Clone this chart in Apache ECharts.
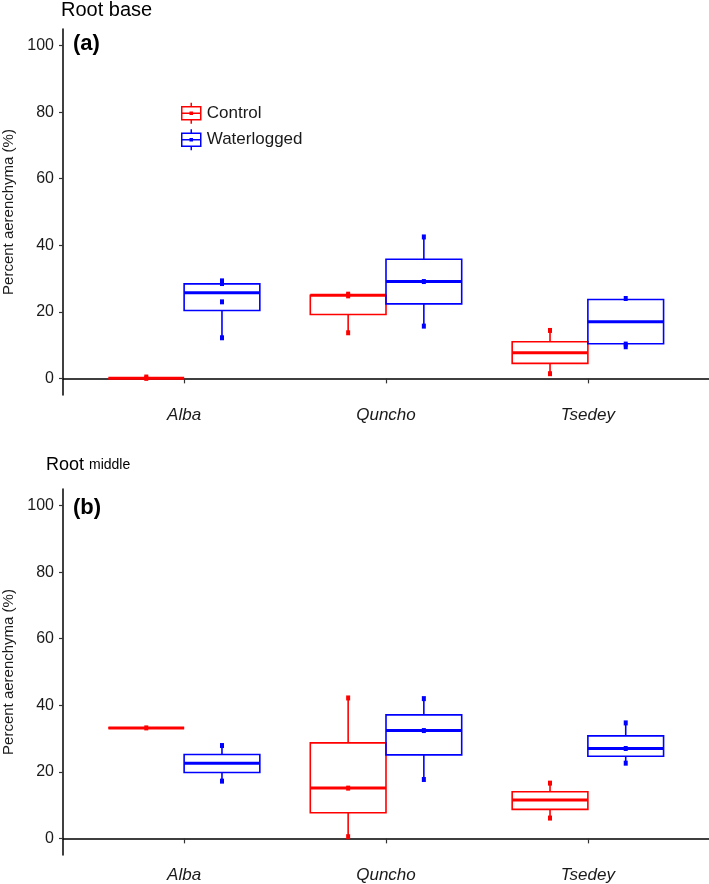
<!DOCTYPE html>
<html>
<head>
<meta charset="utf-8">
<script src="https://cdn.jsdelivr.net/npm/echarts@6/dist/echarts.min.js"></script>
<style>
  html, body { margin: 0; padding: 0; background: #fff; }
  #chart { width: 709px; height: 884px; }
</style>
</head>
<body>
<div id="chart"></div>
<script>
// categories and tick labels
const cultivars = ['Alba', 'Quncho', 'Tsedey'];
const yTicks = [0, 20, 40, 60, 80, 100];

// box stats per cultivar: [min, q1, median, q3, max]
const baseControl = [[0, 0, 0, 0, 0], [13.7, 19.2, 25.0, 25.0, 25.3], [1.4, 4.5, 7.7, 11.0, 14.4]];
const baseWater = [[12.2, 20.4, 25.7, 28.4, 29.3], [15.7, 22.4, 29.1, 35.8, 42.5], [9.5, 10.4, 17.0, 23.7, 24.0]];
const midControl = [[33.2, 33.2, 33.2, 33.2, 33.2], [0.5, 7.7, 15.1, 28.7, 42.2], [6.1, 8.7, 11.5, 14.0, 16.6]];
const midWater = [[17.2, 19.8, 22.6, 25.2, 27.9], [17.7, 25.1, 32.4, 37.1, 42.0], [22.6, 24.7, 27.0, 30.8, 34.7]];

// observed points per cultivar
const basePtsControl = [[0, 0.4], [25.3, 24.8, 13.7], [14.4, 1.4]];
const basePtsWater = [[29.3, 28.5, 23.0, 12.2], [42.5, 29.1, 15.7], [24.0, 10.3, 9.5]];
const midPtsControl = [[33.2], [42.2, 15.1, 0.5], [16.6, 6.1]];
const midPtsWater = [[27.9, 17.2], [42.0, 32.4, 17.7], [34.7, 27.0, 22.6]];

const RED = '#ff0000';
const BLUE = '#0000ff';
const BOX_W = 0.375;
const DODGE = 0.1875;
const FONT = "'Liberation Sans', Arial, sans-serif";

const boxData = (stats, off) => stats.map((s, i) => [i + 1 + off].concat(s));
const ptData = (pts, off) => pts.flatMap((arr, i) => arr.map(v => [i + 1 + off, v]));

function renderBox(params, api) {
  const x = api.value(0);
  const lo = api.coord([x, api.value(1)]);
  const q1 = api.coord([x, api.value(2)]);
  const md = api.coord([x, api.value(3)]);
  const q3 = api.coord([x, api.value(4)]);
  const hi = api.coord([x, api.value(5)]);
  const w = api.size([BOX_W, 0])[0];
  const color = api.visual('color');
  const thin = { stroke: color, lineWidth: 1.6, fill: null };
  return {
    type: 'group',
    children: [
      { type: 'line', shape: { x1: lo[0], y1: q1[1], x2: lo[0], y2: lo[1] }, style: thin },
      { type: 'line', shape: { x1: hi[0], y1: q3[1], x2: hi[0], y2: hi[1] }, style: thin },
      { type: 'rect', shape: { x: q1[0] - w / 2, y: q3[1], width: w, height: q1[1] - q3[1] }, style: thin },
      { type: 'line', shape: { x1: md[0] - w / 2, y1: md[1], x2: md[0] + w / 2, y2: md[1] },
        style: { stroke: color, lineWidth: 3 } }
    ]
  };
}

const xAxisFor = (idx) => ({
  gridIndex: idx,
  type: 'value',
  min: 0.4,
  max: 3.6,
  axisLine: { show: true, lineStyle: { color: '#000', width: 1.5 } },
  axisTick: { show: true, customValues: [1, 2, 3], length: 5, lineStyle: { color: '#333', width: 1.2 } },
  axisLabel: {
    customValues: [1, 2, 3],
    formatter: v => cultivars[Math.round(v) - 1],
    fontStyle: 'italic', fontSize: 17, color: '#1a1a1a', fontFamily: FONT, margin: 12
  },
  splitLine: { show: false }
});

const yAxisFor = (idx) => ({
  gridIndex: idx,
  type: 'value',
  min: -5,
  max: 105,
  name: 'Percent aerenchyma (%)',
  nameLocation: 'middle',
  nameGap: 37,
  nameTextStyle: { fontSize: 15, color: '#1a1a1a', fontFamily: FONT },
  axisLine: { show: true, lineStyle: { color: '#000', width: 1.5 } },
  axisTick: { show: true, customValues: yTicks, length: 4, lineStyle: { color: '#333', width: 1.2 } },
  axisLabel: { customValues: yTicks, fontSize: 16, color: '#1a1a1a', fontFamily: FONT, margin: 9 },
  splitLine: { show: false }
});

const boxSeries = (name, idx, stats, off, color) => ({
  name: name,
  type: 'custom',
  xAxisIndex: idx,
  yAxisIndex: idx,
  renderItem: renderBox,
  itemStyle: { color: color },
  encode: { x: 0, y: [1, 2, 3, 4, 5] },
  data: boxData(stats, off),
  silent: true
});

const ptSeries = (name, idx, pts, off, color) => ({
  name: name,
  type: 'scatter',
  xAxisIndex: idx,
  yAxisIndex: idx,
  symbol: 'rect',
  symbolSize: [4, 5],
  itemStyle: { color: color, opacity: 1 },
  data: ptData(pts, off),
  z: 5,
  silent: true
});

const legendIcon = 'path://M10.5,0V4M1,4H20V17H1ZM1,10.5H20M10.5,17V21M9.5,9.5H11.5V11.5H9.5Z';

const chart = echarts.init(document.getElementById('chart'));
chart.setOption({
  backgroundColor: '#fff',
  animation: false,
  textStyle: { fontFamily: FONT },
  title: [
    { text: 'Root base', left: 61, top: 0, padding: 0,
      textStyle: { fontSize: 20, fontWeight: 'normal', color: '#000', fontFamily: FONT } },
    { text: '(a)', left: 73, top: 33, padding: 0,
      textStyle: { fontSize: 22, fontWeight: 'bold', color: '#000', fontFamily: FONT } },
    { text: '{a|Root} {b|middle}', left: 46, top: 456, padding: 0,
      textStyle: {
        fontWeight: 'normal',
        rich: {
          a: { fontSize: 18, fontWeight: 'normal', color: '#000', fontFamily: FONT },
          b: { fontSize: 14, fontWeight: 'normal', color: '#000', fontFamily: FONT }
        }
      } },
    { text: '(b)', left: 73, top: 497, padding: 0,
      textStyle: { fontSize: 22, fontWeight: 'bold', color: '#000', fontFamily: FONT } }
  ],
  legend: {
    orient: 'vertical',
    left: 181,
    top: 102,
    padding: 0,
    itemWidth: 21,
    itemHeight: 21,
    itemGap: 4,
    selectedMode: false,
    textStyle: { fontSize: 17, color: '#1a1a1a', fontFamily: FONT },
    data: [
      { name: 'Control', icon: legendIcon,
        itemStyle: { color: 'rgba(0,0,0,0)', borderColor: RED, borderWidth: 1.5 } },
      { name: 'Waterlogged', icon: legendIcon,
        itemStyle: { color: 'rgba(0,0,0,0)', borderColor: BLUE, borderWidth: 1.5 } }
    ]
  },
  grid: [
    { left: 63, top: 29, width: 646, height: 366, outerBoundsMode: 'none' },
    { left: 63, top: 489, width: 646, height: 366, outerBoundsMode: 'none' }
  ],
  xAxis: [xAxisFor(0), xAxisFor(1)],
  yAxis: [yAxisFor(0), yAxisFor(1)],
  series: [
    boxSeries('Control', 0, baseControl, -DODGE, RED),
    boxSeries('Waterlogged', 0, baseWater, DODGE, BLUE),
    ptSeries('Control', 0, basePtsControl, -DODGE, RED),
    ptSeries('Waterlogged', 0, basePtsWater, DODGE, BLUE),
    boxSeries('Control', 1, midControl, -DODGE, RED),
    boxSeries('Waterlogged', 1, midWater, DODGE, BLUE),
    ptSeries('Control', 1, midPtsControl, -DODGE, RED),
    ptSeries('Waterlogged', 1, midPtsWater, DODGE, BLUE)
  ]
});
</script>
</body>
</html>
